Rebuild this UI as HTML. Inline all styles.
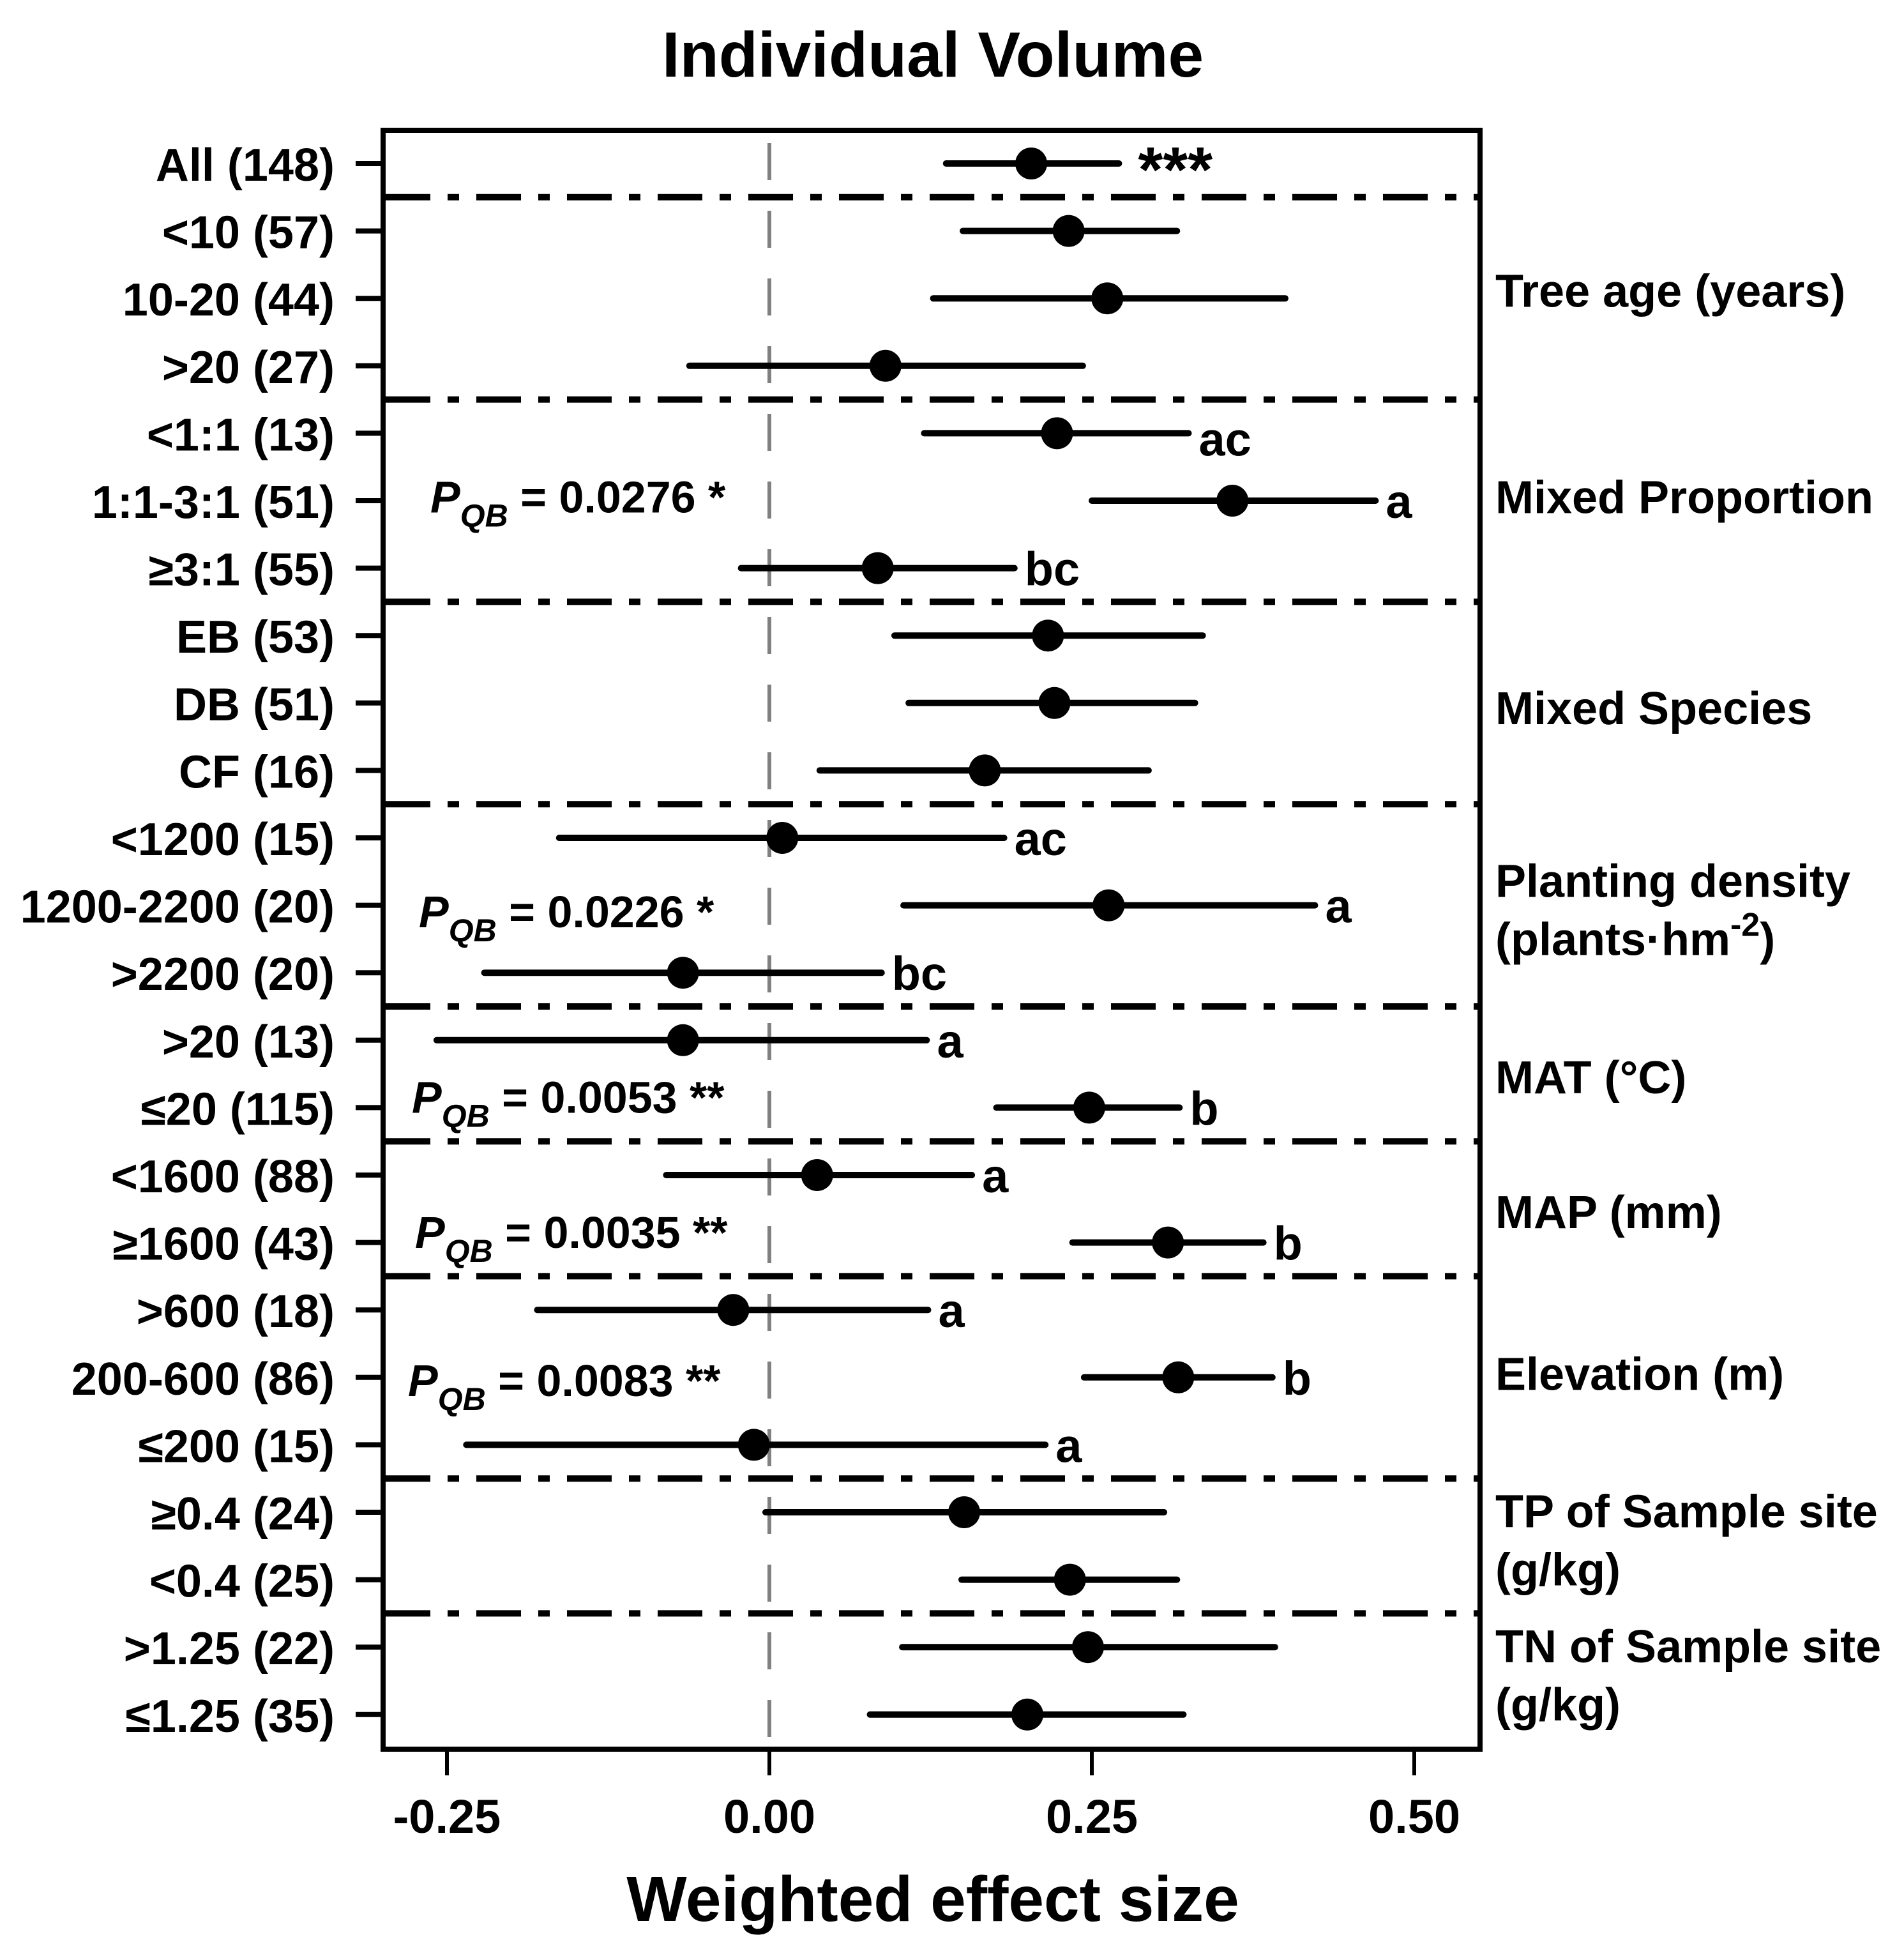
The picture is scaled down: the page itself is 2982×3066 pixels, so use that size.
<!DOCTYPE html>
<html><head><meta charset="utf-8"><style>
html,body{margin:0;padding:0;background:#fff}
svg{display:block}
text{font-family:"Liberation Sans",Arial,sans-serif;font-weight:bold;fill:#000}
</style></head><body>
<svg id="chart" xmlns="http://www.w3.org/2000/svg" width="2982" height="3066" viewBox="0 0 2982 3066">
<rect width="2982" height="3066" fill="#fff"/>
<text x="1461" y="120" font-size="100" text-anchor="middle">Individual Volume</text>
<g id="marks"></g>
<rect x="600" y="204" width="1718" height="2535" fill="none" stroke="#000" stroke-width="8"/>
<text x="1461" y="3008" font-size="100" text-anchor="middle">Weighted effect size</text>
</svg>
<script>
const labels = ["All (148)","<10 (57)","10-20 (44)",">20 (27)","<1:1 (13)","1:1-3:1 (51)","≥3:1 (55)","EB (53)","DB (51)","CF (16)","<1200 (15)","1200-2200 (20)",">2200 (20)",">20 (13)","≤20 (115)","<1600 (88)","≥1600 (43)",">600 (18)","200-600 (86)","≤200 (15)","≥0.4 (24)","<0.4 (25)",">1.25 (22)","≤1.25 (35)"];
const means = [0.203,0.232,0.262,0.090,0.223,0.359,0.084,0.216,0.221,0.167,0.010,0.263,-0.067,-0.067,0.248,0.037,0.309,-0.028,0.317,-0.012,0.151,0.233,0.247,0.200];
const lowers = [0.137,0.150,0.127,-0.062,0.120,0.250,-0.022,0.097,0.108,0.039,-0.163,0.104,-0.221,-0.258,0.176,-0.080,0.235,-0.180,0.244,-0.235,-0.003,0.149,0.103,0.078];
const uppers = [0.271,0.316,0.400,0.243,0.325,0.470,0.190,0.336,0.330,0.294,0.182,0.423,0.087,0.122,0.318,0.157,0.383,0.123,0.390,0.214,0.306,0.316,0.392,0.321];
const letters = ["***","","","","ac","a","bc","","","","ac","a","bc","a","b","a","b","a","b","a","","","",""];
const separatorsAfter = [0,3,6,9,12,14,16,19,21];
const xTicks = [-0.25,0,0.25,0.5];
const xTickLabels = ["-0.25","0.00","0.25","0.50"];
const groupNames = [["Tree age (years)"],["Mixed Proportion"],["Mixed Species"],["Planting density","(plants·hm"],["MAT (°C)"],["MAP (mm)"],["Elevation (m)"],["TP of Sample site","(g/kg)"],["TN of Sample site","(g/kg)"]];
const groupRowCenters = [1.87,4.93,8.06,11.05,13.53,15.53,17.93,20.4,22.4];
const pqbTexts = ["0.0276 *","0.0226 *","0.0053 **","0.0035 **","0.0083 **"];
const pqbRows = [4.95,11.1,13.85,15.85,18.05];

const NS="http://www.w3.org/2000/svg";
const X0=1205, XU=2020, Y0=256, DY=105.6;
const pqbX=[674,656,645,650,639];
function xs(v){return X0+v*XU;}
function ys(i){return Y0+i*DY;}
const g=document.getElementById('marks');
function mk(tag,attrs,parent){const e=document.createElementNS(NS,tag);for(const k in attrs)e.setAttribute(k,attrs[k]);(parent||g).appendChild(e);return e;}

const zl=mk('line',{x1:xs(0),x2:xs(0),y1:204,y2:2739,stroke:'#808080','stroke-width':6,'stroke-dasharray':'58 48','stroke-dashoffset':'-20'});



separatorsAfter.forEach(i=>{
  const s=mk('line',{x1:604,x2:2314,y1:ys(i+0.5),y2:ys(i+0.5),stroke:'#000','stroke-width':10,'stroke-dasharray':'70 27 18 27'});
  
  
});

labels.forEach((lab,i)=>{
  const y=ys(i);
  const t=mk('line',{x1:557,x2:600,y1:y,y2:y,stroke:'#000','stroke-width':8});
  
  
  const tx=mk('text',{x:524,y:y+27,'font-size':72,'text-anchor':'end'});
  tx.textContent=lab;
  
  
  const ci=mk('line',{x1:xs(lowers[i]),x2:xs(uppers[i]),y1:y,y2:y,stroke:'#000','stroke-width':10,'stroke-linecap':'round'});
  
  
  const p=mk('circle',{cx:xs(means[i]),cy:y,r:25,fill:'#000'});
  
  
  if(letters[i]){
    const big=letters[i]==="***";
    const L=mk('text',{x:xs(uppers[i])+(big?30:16),y:y+(big?44:27)+(i===4?8:0),'font-size':big?100:74});
    L.textContent=letters[i];
    
    
  }
});

xTicks.forEach((v,i)=>{
  const t=mk('line',{x1:xs(v),x2:xs(v),y1:2739,y2:2780,stroke:'#000','stroke-width':6});
  
  
  const tx=mk('text',{x:xs(v),y:2870,'font-size':74,'text-anchor':'middle'});
  tx.textContent=xTickLabels[i];
  
  
});

groupNames.forEach((lines,i)=>{
  const c=ys(groupRowCenters[i]);
  const n=lines.length;
  lines.forEach((ln,j)=>{
    const tx=mk('text',{x:2342,y:c+27+(j-(n-1)/2)*91,'font-size':72});
    tx.textContent=ln;
    if(ln==="(plants·hm"){
      const s=document.createElementNS(NS,'tspan');s.setAttribute('dy','-30');s.setAttribute('font-size','52');s.textContent='-2';tx.appendChild(s);
      const e=document.createElementNS(NS,'tspan');e.setAttribute('dy','30');e.textContent=')';tx.appendChild(e);
    }
    
    
  });
});

pqbTexts.forEach((s,i)=>{
  const y=ys(pqbRows[i])+24;
  const tx=mk('text',{x:pqbX[i],y:y,'font-size':70});
  const a=document.createElementNS(NS,'tspan');a.setAttribute('font-style','italic');a.textContent='P';tx.appendChild(a);
  const b=document.createElementNS(NS,'tspan');b.setAttribute('font-style','italic');b.setAttribute('font-size','50');b.setAttribute('dy','22');b.textContent='QB';tx.appendChild(b);
  const c=document.createElementNS(NS,'tspan');c.setAttribute('dy','-22');c.textContent=' = '+s;tx.appendChild(c);
  
  
});
</script>
</body></html>
